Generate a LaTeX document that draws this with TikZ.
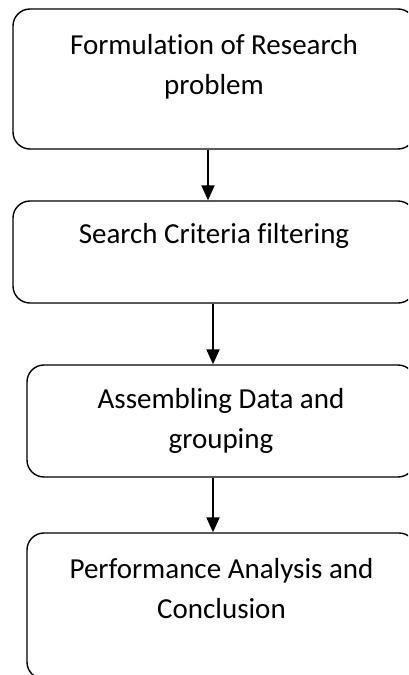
\documentclass[tikz,border=0pt]{standalone}
\usepackage{fontspec}
\setmainfont[Ligatures={NoCommon,NoRare,NoContextual}]{Carlito}
\usetikzlibrary{arrows.meta}

% text set at the top of a box: height, gap above first line, lines
\newcommand{\boxlines}[3]{\parbox[c][#1][t]{360pt}{\centering\vspace*{#2}\strut #3}}

\tikzstyle{block}=[rectangle,
    rounded corners=17pt,
    line width=1.4pt,
    draw=black,
    inner sep=0pt,
    font=\fontsize{29}{40}\selectfont]
\tikzstyle{link}=[line width=2pt, -{Triangle[width=13pt,length=15pt]}]

\begin{document}
\begin{tikzpicture}[x=1pt,y=-1pt]
            \path[use as bounding box] (0,0) rectangle (408,675);
            \clip (0,0) rectangle (408,675);
            \node (form) [block, minimum width=402pt] at (214,79)
                {\boxlines{140pt}{17pt}{Formulation of Research\\problem}};
            \node (search) [block, minimum width=402pt] at (214,252)
                {\boxlines{102pt}{14pt}{Search Criteria filtering}};
            \node (assem) [block, minimum width=388pt] at (221,421)
                {\boxlines{112pt}{15pt}{Assembling Data and\\grouping}};
            \node (perf) [block, minimum width=389pt] at (221.5,606)
                {\boxlines{146pt}{17pt}{Performance Analysis and\\Conclusion}};
            \draw [link] ([xshift=-6pt]form.south) -- ([xshift=-6pt]form.south |- search.north);
            \draw [link] ([xshift=-1pt]search.south) -- ([xshift=-1pt]search.south |- assem.north);
            \draw [link] ([xshift=-8pt]assem.south) -- ([xshift=-8pt]assem.south |- perf.north);
        \end{tikzpicture}
\end{document}
